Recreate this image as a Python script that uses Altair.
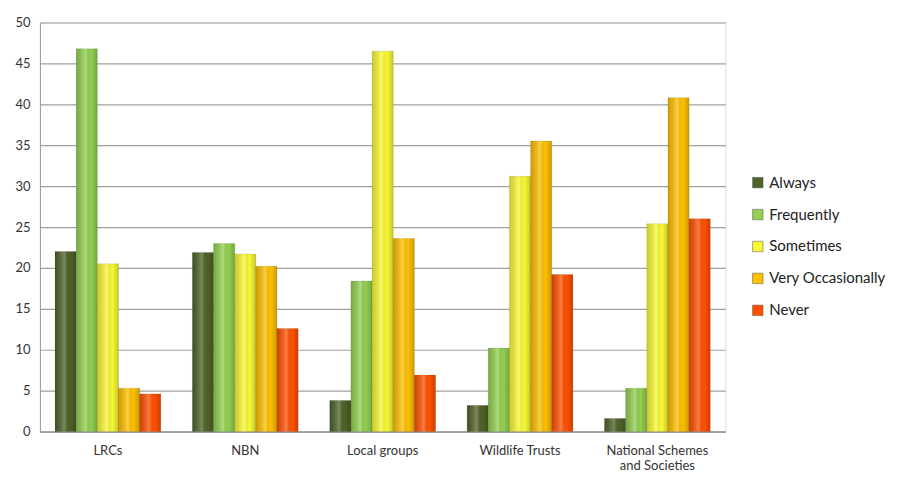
import altair as alt
import pandas as pd

categories = ["LRCs", "NBN", "Local groups", "Wildlife Trusts", "National Schemes and Societies"]
series = ["Always", "Frequently", "Sometimes", "Very Occasionally", "Never"]
always = [22.0, 21.9, 3.8, 3.2, 1.6]
frequently = [46.8, 23.0, 18.4, 10.2, 5.3]
sometimes = [20.5, 21.7, 46.5, 31.2, 25.4]
very_occasionally = [5.3, 20.2, 23.6, 35.5, 40.8]
never = [4.6, 12.6, 6.9, 19.2, 26.0]
colors = ["#4f6228", "#92d050", "#f9f933", "#ffc000", "#ff5000"]

values = [always, frequently, sometimes, very_occasionally, never]
rows = []
for s, vals in zip(series, values):
    for c, v in zip(categories, vals):
        rows.append({"cat": c, "series": s, "value": v})
df = pd.DataFrame(rows)

x_enc = alt.X("cat:N", sort=categories, title=None,
              scale=alt.Scale(paddingInner=0.23, paddingOuter=0.11),
              axis=alt.Axis(labelAngle=0, labelFontSize=13, labelColor="#333333",
                            labelFont="Lato", labelPadding=13, ticks=False,
                            domainColor="#9a9a9a", domainWidth=1.5,
                            labelExpr="datum.label == 'National Schemes and Societies' ? ['National Schemes', 'and Societies'] : datum.label"))
xo_enc = alt.XOffset("series:N", sort=series)
y_enc = alt.Y("value:Q", title=None,
              scale=alt.Scale(domain=[0, 50]),
              axis=alt.Axis(values=list(range(0, 51, 5)), labelFontSize=13,
                            labelFont="Lato", labelColor="#333333",
                            labelPadding=10, ticks=False, domainColor="#9a9a9a",
                            gridColor="#a0a0a0", gridWidth=1.2))

bars = alt.Chart(df).mark_bar(stroke="#00000033", strokeWidth=0.5).encode(
    x=x_enc, xOffset=xo_enc, y=y_enc,
    color=alt.Color("series:N", sort=series,
                    scale=alt.Scale(domain=series, range=colors),
                    legend=alt.Legend(title=None, orient="none", legendX=712, legendY=153,
                                      symbolType="square", symbolSize=110,
                                      symbolStrokeColor="#555555", symbolStrokeWidth=0.5,
                                      labelFontSize=15, labelFont="Lato", labelColor="#222222",
                                      rowPadding=16, labelOffset=4, labelLimit=200)),
)

shade = alt.Chart(df).mark_bar(
    color=alt.Gradient(gradient="linear", x1=0, x2=1, y1=0, y2=0,
                       stops=[alt.GradientStop(color="rgba(0,0,0,0.18)", offset=0),
                              alt.GradientStop(color="rgba(255,255,255,0.25)", offset=0.45),
                              alt.GradientStop(color="rgba(0,0,0,0.0)", offset=0.7),
                              alt.GradientStop(color="rgba(0,0,0,0.2)", offset=1)])
).encode(x=x_enc, xOffset=xo_enc, y=y_enc)

chart = alt.layer(bars, shade).properties(
    width=687, height=410,
    autosize=alt.AutoSizeParams(type="none"),
    padding={"left": 32, "top": 14, "right": 165, "bottom": 40},
).configure_view(stroke=None).configure(background="white")

chart.save("out.html", embed_options={"renderer": "svg", "actions": False})
